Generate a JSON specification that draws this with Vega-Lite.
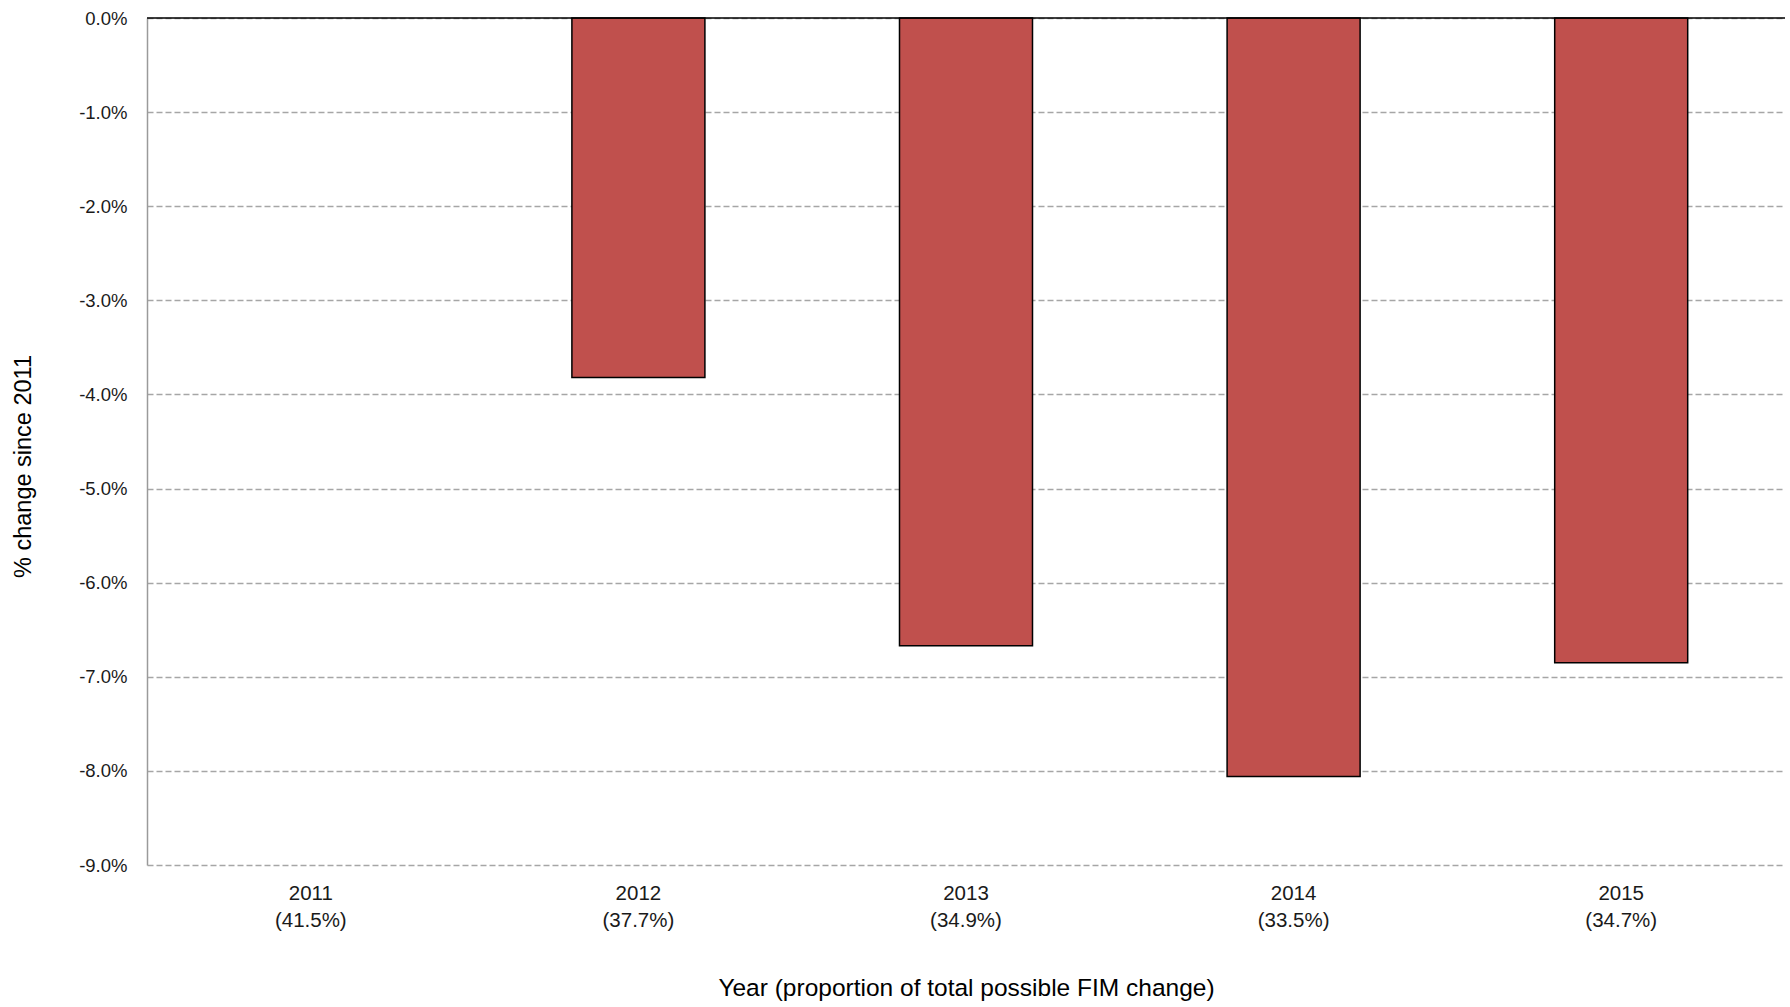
{
  "$schema": "https://vega.github.io/schema/vega-lite/v6.json",
  "autosize": {"type": "none"},
  "width": 1638,
  "height": 847,
  "padding": {"left": 147, "top": 18, "right": 5, "bottom": 142},
  "background": "white",
  "config": {"view": {"stroke": null}},
  "data": {
    "values": [
      {"year": "2011|(41.5%)", "change": 0},
      {"year": "2012|(37.7%)", "change": -0.0382},
      {"year": "2013|(34.9%)", "change": -0.0667},
      {"year": "2014|(33.5%)", "change": -0.0806},
      {"year": "2015|(34.7%)", "change": -0.0685}
    ]
  },
  "layer": [
    {
      "mark": {"type": "bar", "color": "#c0504d", "stroke": "#000000", "strokeWidth": 1.5},
      "encoding": {
        "x": {
          "field": "year",
          "type": "nominal",
          "sort": null,
          "scale": {"paddingInner": 0.594, "paddingOuter": 0.297},
          "axis": {
            "title": "Year (proportion of total possible FIM change)",
            "titleFont": "Liberation Sans Narrow, Liberation Sans",
            "titleFontSize": 24.5,
            "titleFontWeight": "normal",
            "titleColor": "#000000",
            "titlePadding": 46,
            "labelExpr": "split(datum.value, '|')",
            "labelAngle": 0,
            "labelFont": "Liberation Sans Narrow, Liberation Sans",
            "labelFontSize": 20.5,
            "labelLineHeight": 27,
            "labelColor": "#1a1a1a",
            "labelPadding": 18,
            "domain": false,
            "ticks": false,
            "grid": false
          }
        },
        "y": {
          "field": "change",
          "type": "quantitative",
          "scale": {"domain": [-0.09, 0], "nice": false},
          "axis": {
            "title": "% change since 2011",
            "titleFont": "Liberation Sans",
            "titleFontSize": 23.5,
            "titleFontWeight": "normal",
            "titleColor": "#000000",
            "titlePadding": 43,
            "titleY": 448,
            "values": [0, -0.01, -0.02, -0.03, -0.04, -0.05, -0.06, -0.07, -0.08, -0.09],
            "labelExpr": "(datum.value < -0.00001 ? '-' : '') + format(abs(datum.value), '.1%')",
            "labelFont": "Liberation Sans",
            "labelFontSize": 18.5,
            "labelColor": "#1a1a1a",
            "labelPadding": 20,
            "ticks": false,
            "domain": true,
            "domainColor": "#9a9a9a",
            "domainWidth": 1.5,
            "grid": true,
            "gridColor": "#a6a6a6",
            "gridWidth": 1.3,
            "gridDash": [6, 3]
          }
        },
        "strokeOpacity": {
          "condition": {"test": "datum.change == 0", "value": 0},
          "value": 1
        }
      }
    },
    {
      "data": {"values": [{"zero": 0}]},
      "mark": {"type": "rule", "color": "#000000", "strokeWidth": 1.6},
      "encoding": {"y": {"field": "zero", "type": "quantitative"}}
    }
  ]
}
